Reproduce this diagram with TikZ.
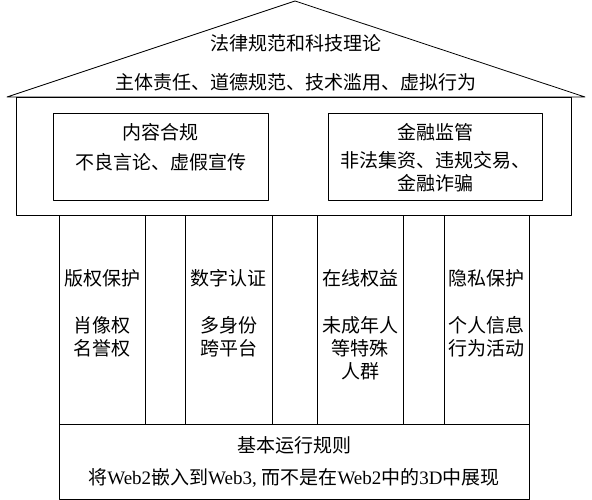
\documentclass[tikz,border=0pt]{standalone}
\usepackage{fontspec}
\setmainfont{Noto Sans CJK SC}
\newfontfamily\latinfont{Liberation Serif}
\usetikzlibrary{calc}
\tikzset{
	wall/.style={draw, line width=0.8pt, line join=round},
	txt/.style={font=\fontsize{19}{23}\selectfont, inner sep=0pt, align=center}
}
\newcommand{\lat}[1]{{\latinfont #1}}

\begin{document}
\begin{tikzpicture}[x=1pt,y=-1pt]
	\useasboundingbox (0,0) rectangle (592,500);
	% roof
	\coordinate (eaveL) at (7,97);
	\coordinate (ridge) at (295,1);
	\coordinate (eaveR) at (585,97);
	\draw[wall] (eaveL) -- (ridge) -- (eaveR) -- cycle;
	\node[txt] (law) at (296,43) {法律规范和科技理论};
	\node[txt] (duty) at (296,82) {主体责任、道德规范、技术滥用、虚拟行为};
	% beam with two boxes
	\draw[wall] (16,97) rectangle (571,215);
	\draw[wall] (53,113) rectangle (268,200);
	\draw[wall] (328,113) rectangle (542,200);
	\node[txt] (content) at (160.5,132) {内容合规};
	\node[txt] (contentsub) at (160.5,162) {不良言论、虚假宣传};
	\node[txt] (finance) at (435,132) {金融监管};
	\node[txt, anchor=north] (financesub) at (435,151) {非法集资、违规交易、\\金融诈骗};
	% pillars
	\foreach \l/\r in {59/145,185/272,317/403,444/529}
		\draw[wall] (\l,215) rectangle (\r,424);
	\node[txt] (copyright) at (102,278) {版权保护};
	\node[txt, anchor=north] (copyrightsub) at (102,316) {肖像权\\名誉权};
	\node[txt] (digital) at (228.5,278) {数字认证};
	\node[txt, anchor=north] (digitalsub) at (228.5,316) {多身份\\跨平台};
	\node[txt] (online) at (360,278) {在线权益};
	\node[txt, anchor=north] (onlinesub) at (360,316) {未成年人\\等特殊\\人群};
	\node[txt] (privacy) at (486.5,278) {隐私保护};
	\node[txt, anchor=north] (privacysub) at (486.5,316) {个人信息\\行为活动};
	% base
	\draw[wall] (59,424) rectangle (529,499);
	\node[txt] (rules) at (294,445) {基本运行规则};
	\node[txt] (embed) at (294,478) {将\lat{Web2}嵌入到\lat{Web3, }而不是在\lat{Web2}中的\lat{3D}中展现};
\end{tikzpicture}
\end{document}
